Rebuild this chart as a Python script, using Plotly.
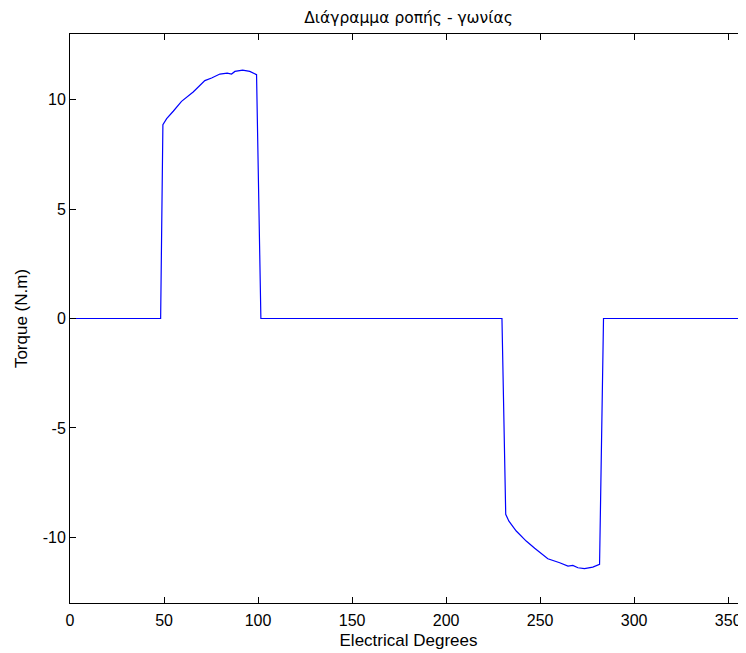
import plotly.graph_objects as go

# Electrical angle (degrees) and torque (N.m)
angle = [0, 48.2, 49.4, 51.4, 54.9, 59.3, 65.5, 69.1, 71.7, 75.3, 79.7, 83.6, 85.9,
         87.7, 91.8, 95.6, 99.2, 101.5, 229.7, 231.7, 233.4, 237.3, 242.6, 247.1,
         250.6, 254.1, 260.4, 264.8, 267.4, 270.1, 273.6, 278.0, 281.6, 283.7, 360]
torque = [0, 0, 8.86, 9.13, 9.47, 9.92, 10.35, 10.65, 10.87, 10.99, 11.17, 11.21, 11.17,
          11.29, 11.35, 11.29, 11.14, 0, 0, -8.95, -9.26, -9.71, -10.17, -10.50,
          -10.75, -10.98, -11.16, -11.31, -11.28, -11.39, -11.43, -11.36, -11.23, 0, 0]

x_ticks = [0, 50, 100, 150, 200, 250, 300, 350]
y_ticks = [-10, -5, 0, 5, 10]
y_tick_labels = ["-10", "-5", "0", "5", "10"]

fig = go.Figure()
fig.add_trace(go.Scatter(x=angle, y=torque, mode="lines",
                         line=dict(color="#0000ff", width=1.2), showlegend=False))

axis_common = dict(showgrid=False, zeroline=False, showline=True, linecolor="black",
                   linewidth=1, mirror="ticks", ticks="inside", ticklen=6,
                   tickcolor="black", tickwidth=1, automargin=False,
                   tickfont=dict(family="Liberation Sans, Arial", size=16, color="black"))

fig.update_layout(
    width=746, height=653,
    margin=dict(l=62, r=7, t=26, b=58, autoexpand=False),
    paper_bgcolor="white", plot_bgcolor="white",
    title=dict(text="Διάγραμμα ροπής - γωνίας", xref="paper", x=0.5, xanchor="center",
               y=0.985, yanchor="middle", automargin=False,
               font=dict(family="DejaVu Sans", size=15.5, color="black")),
    xaxis=dict(range=[0, 360], tickvals=x_ticks, ticklabelstandoff=3,
               title=dict(text="Electrical Degrees", standoff=5,
                          font=dict(family="Liberation Sans, Arial", size=17, color="black")),
               **axis_common),
    yaxis=dict(range=[-13, 13], tickvals=y_ticks, ticktext=y_tick_labels,
               title=dict(text="Torque (N.m)", standoff=10,
                          font=dict(family="Liberation Sans, Arial", size=17, color="black")),
               **axis_common),
)

fig.write_html("out.html")
